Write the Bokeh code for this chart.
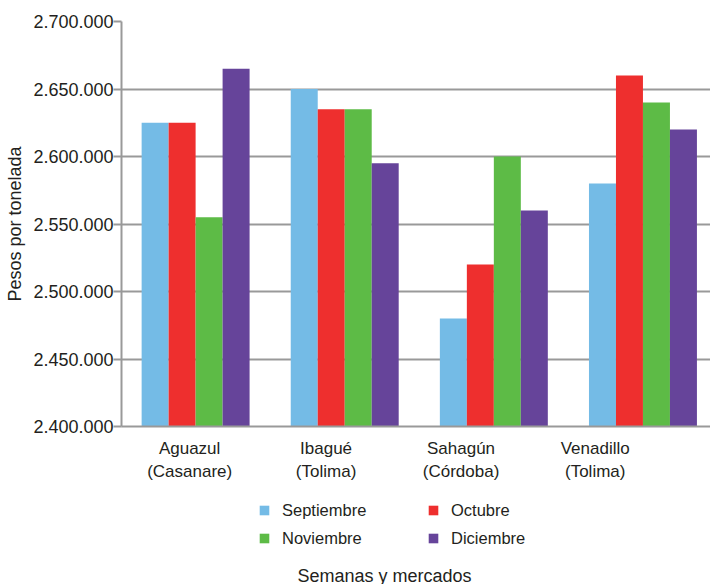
from bokeh.plotting import figure
from bokeh.layouts import column
from bokeh.models import Range1d, FixedTicker, Legend, LegendItem, Label, ColumnDataSource
from bokeh.transform import dodge
from bokeh.embed import file_html
from bokeh.resources import INLINE

# ---- data ----
markets = ["Aguazul (Casanare)", "Ibagué (Tolima)", "Sahagún (Córdoba)", "Venadillo (Tolima)"]
market_labels = ["Aguazul\n(Casanare)", "Ibagué\n(Tolima)", "Sahagún\n(Córdoba)", "Venadillo\n(Tolima)"]
months = ["Septiembre", "Octubre", "Noviembre", "Diciembre"]
septiembre = [2625000, 2650000, 2480000, 2580000]
octubre = [2625000, 2635000, 2520000, 2660000]
noviembre = [2555000, 2635000, 2600000, 2640000]
diciembre = [2665000, 2595000, 2560000, 2620000]
y_ticks = [2400000, 2450000, 2500000, 2550000, 2600000, 2650000, 2700000]
y_tick_labels = ["2.400.000", "2.450.000", "2.500.000", "2.550.000", "2.600.000", "2.650.000", "2.700.000"]
x_title = "Semanas y mercados"
y_title = "Pesos por tonelada"

# ---- styling / layout ----
colors = ["#74bbe6", "#ee2f2e", "#5dbb46", "#66449a"]
text_color = "#231f20"
grid_color = "#999999"
font = "Liberation Sans"
bar_w = 0.181
label_pos = [-0.04, 0.875, 1.78, 2.68]

idx = list(range(len(markets)))
source = ColumnDataSource(dict(idx=idx, market=markets, Septiembre=septiembre,
                               Octubre=octubre, Noviembre=noviembre, Diciembre=diciembre))

p = figure(frame_width=589, frame_height=405, output_backend="svg", toolbar_location=None,
           x_range=Range1d(-0.497, 3.453), y_range=Range1d(2400000, 2700000),
           min_border_left=121, min_border_right=0, min_border_top=21, min_border_bottom=64)
p.outline_line_color = None
p.background_fill_color = "white"

bar_renderers = []
for i, m in enumerate(months):
    off = (i - 1.5) * bar_w
    r = p.vbar(x=dodge("idx", off, range=p.x_range), top=m, bottom=y_ticks[0], width=bar_w,
               source=source, fill_color=colors[i], line_color=None)
    bar_renderers.append(r)

# y axis
yax = p.yaxis[0]
yax.ticker = FixedTicker(ticks=y_ticks)
yax.major_label_overrides = {t: l for t, l in zip(y_ticks, y_tick_labels)}
yax.major_label_text_font = font
yax.major_label_text_font_size = "18px"
yax.major_label_text_color = text_color
yax.major_label_standoff = 0
yax.major_tick_out = 8
yax.major_tick_in = 0
yax.major_tick_line_color = grid_color
yax.major_tick_line_width = 2
yax.minor_tick_line_color = None
yax.axis_line_color = grid_color
yax.axis_line_width = 2
yax.axis_label = y_title
yax.axis_label_text_font = font
yax.axis_label_text_font_size = "18px"
yax.axis_label_text_font_style = "normal"
yax.axis_label_text_color = text_color
yax.axis_label_standoff = 5

# x axis
xax = p.xaxis[0]
xax.ticker = FixedTicker(ticks=label_pos)
xax.major_label_overrides = {t: l for t, l in zip(label_pos, market_labels)}
xax.major_label_text_font = font
xax.major_label_text_font_size = "17px"
xax.major_label_text_line_height = 1.24
xax.major_label_text_color = text_color
xax.major_label_standoff = 6
xax.major_tick_line_color = None
xax.minor_tick_line_color = None
xax.axis_line_color = grid_color
xax.axis_line_width = 2

p.xgrid.grid_line_color = None
p.ygrid.ticker = FixedTicker(ticks=y_ticks)
p.ygrid.grid_line_color = grid_color
p.ygrid.grid_line_width = 2

# ---- legend + x title strip (pixel-scaled ranges) ----
q = figure(frame_width=710, frame_height=94, output_backend="svg", toolbar_location=None,
           x_range=Range1d(0, 710), y_range=Range1d(0, 94),
           min_border_left=0, min_border_right=0, min_border_top=0, min_border_bottom=0,
           x_axis_location=None, y_axis_location=None)
q.outline_line_color = None
q.xgrid.grid_line_color = None
q.ygrid.grid_line_color = None

# legend swatches: each keyed to one bar series, kept outside the visible strip
legend_renderers = []
for i, m in enumerate(months):
    r = q.vbar(x=[-100], top=[-100], bottom=[-200], width=10,
               fill_color=bar_renderers[i].glyph.fill_color, line_color=None)
    legend_renderers.append(r)

legend = Legend(items=[LegendItem(label=m, renderers=[r]) for m, r in zip(months, legend_renderers)],
                orientation="horizontal", ncols=2, location=(258, 36),
                glyph_width=12, glyph_height=12, label_standoff=12, label_width=137,
                label_height=20, spacing=8, padding=0, margin=0,
                label_text_font=font, label_text_font_size="16.5px", label_text_color=text_color,
                border_line_color=None, background_fill_alpha=0)
q.add_layout(legend, "center")

# the strip's frame is aligned with the chart frame by the column layout
q.add_layout(Label(x=176, y=9, text=x_title,
                   text_baseline="middle", text_align="left",
                   text_font=font, text_font_size="18px", text_color=text_color))

open("out.html", "w").write(file_html(column(p, q, spacing=0), INLINE))
